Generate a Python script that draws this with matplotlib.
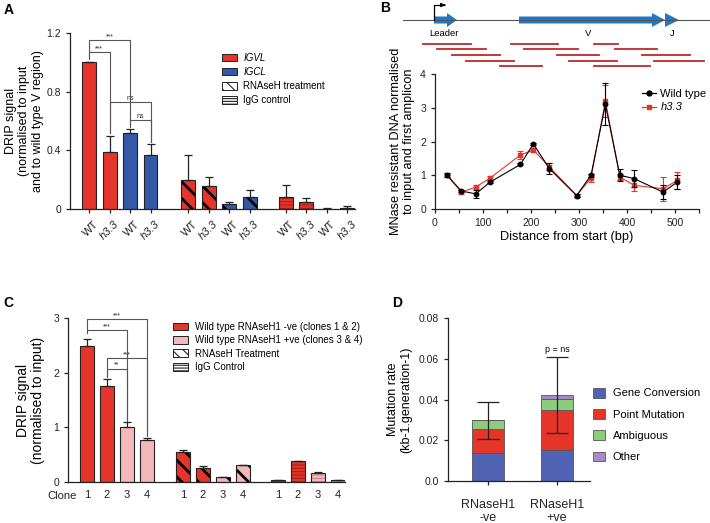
import matplotlib
matplotlib.use("Agg")
import matplotlib.pyplot as plt
from matplotlib.patches import Patch, FancyArrow
from matplotlib.lines import Line2D
import matplotlib.transforms as mtransforms
import numpy as np

plt.rcParams['font.family'] = ['Liberation Sans', 'DejaVu Sans']
plt.rcParams['hatch.linewidth'] = 2.0

W, H = 710, 523
fig = plt.figure(figsize=(W / 100, H / 100), dpi=100)

def ax_px(x0, y0, x1, y1):
    return fig.add_axes([x0 / W, 1 - y1 / H, (x1 - x0) / W, (y1 - y0) / H])

RED = '#E5352B'
BLUE = '#3658A8'
PINK = '#F4B8BC'
DARK = '#222222'

def style(ax):
    for s in ['top', 'right']:
        ax.spines[s].set_visible(False)
    for s in ['left', 'bottom']:
        ax.spines[s].set_color(DARK)
        ax.spines[s].set_linewidth(0.9)
    ax.tick_params(colors=DARK, width=0.9, length=3, labelsize=7.5)

# ---------------- Panel A data ----------------
a_labels = ['WT', 'h3.3', 'WT', 'h3.3'] * 3
a_vals = [1.00, 0.39, 0.52, 0.37, 0.195, 0.16, 0.035, 0.08, 0.085, 0.05, 0.003, 0.01]
a_err = [0.0, 0.11, 0.025, 0.075, 0.17, 0.055, 0.01, 0.05, 0.08, 0.025, 0.002, 0.01]
a_gene = ['IGVL', 'IGVL', 'IGCL', 'IGCL'] * 3
a_treat = ['none'] * 4 + ['rnaseh'] * 4 + ['igg'] * 4

# ---------------- Panel B data ----------------
b_x = [25, 55, 85, 115, 178, 205, 238, 295, 325, 355, 385, 415, 475, 505]
b_wt = [1.0, 0.53, 0.45, 0.8, 1.32, 1.93, 1.2, 0.4, 1.0, 3.1, 1.0, 0.9, 0.5, 0.8]
b_wt_err = [0.06, 0.03, 0.12, 0.04, 0.03, 0.03, 0.15, 0.04, 0.05, 0.62, 0.18, 0.25, 0.2, 0.22]
b_h33 = [1.0, 0.5, 0.65, 0.92, 1.6, 1.75, 1.25, 0.4, 0.92, 3.2, 0.95, 0.7, 0.6, 0.85]
b_h33_err = [0.05, 0.06, 0.07, 0.05, 0.12, 0.05, 0.1, 0.04, 0.12, 0.47, 0.1, 0.18, 0.35, 0.25]
# amplicon schematic (start, end, row) in diagram units
amp_start = [423, 511, 594, 437, 524, 615, 452, 557, 642, 466, 569, 654, 500, 594]
amp_end = [471, 558, 618, 486, 578, 657, 500, 599, 690, 514, 617, 704, 542, 650]
amp_row = [0, 0, 0, 1, 1, 1, 2, 2, 2, 3, 3, 3, 4, 4]

# ---------------- Panel C data ----------------
c_labels = ['1', '2', '3', '4'] * 3
c_vals = [2.48, 1.76, 1.01, 0.77, 0.55, 0.25, 0.09, 0.31, 0.04, 0.38, 0.17, 0.04]
c_err = [0.13, 0.13, 0.08, 0.04, 0.03, 0.05, 0.01, 0.01, 0.0, 0.005, 0.02, 0.0]
c_type = ['neg', 'neg', 'pos', 'pos'] * 3
c_treat = ['none'] * 4 + ['rnaseh'] * 4 + ['igg'] * 4

# ---------------- Panel D data ----------------
d_cats = ['RNaseH1\n-ve', 'RNaseH1\n+ve']
d_gene_conv = [0.0135, 0.0150]
d_point = [0.0120, 0.0198]
d_ambig = [0.0043, 0.0054]
d_other = [0.0, 0.0021]
d_err = [0.009, 0.0185]


def igg_hatch_color(color):
    return {RED: '#9E1E16', BLUE: '#1E2F6E'}.get(color, '#C98088')


def hatched_bar(ax, x, h, w, color, treat):
    if treat == 'rnaseh':
        ax.bar(x, h, w, color=color, edgecolor='black', hatch='\\\\', linewidth=0, zorder=2)
    elif treat == 'igg':
        with plt.rc_context({'hatch.linewidth': 0.7}):
            ax.bar(x, h, w, color=color, edgecolor=igg_hatch_color(color), hatch='-----',
                   linewidth=0, zorder=2)
    else:
        ax.bar(x, h, w, color=color, linewidth=0, zorder=2)
    ax.bar(x, h, w, fill=False, edgecolor=DARK, linewidth=0.8, zorder=3)


def bracket(ax, x1, x2, ytop, yl, yr, text, fs=5):
    ax.plot([x1, x1, x2, x2], [yl, ytop, ytop, yr], color='#555555', lw=0.8, zorder=4,
            clip_on=False)
    ax.text((x1 + x2) / 2, ytop, text, ha='center', va='bottom', fontsize=fs, color=DARK)


def legend_handles(first_labels, first_colors, hatch_labels):
    hs = [Patch(facecolor=c, edgecolor=DARK, linewidth=0.7, label=l)
          for l, c in zip(first_labels, first_colors)]
    hs.append(Patch(facecolor='white', edgecolor=DARK, linewidth=0.7, hatch='\\\\\\',
                    label=hatch_labels[0]))
    hs.append(Patch(facecolor='white', edgecolor=DARK, linewidth=0.7, hatch='------',
                    label=hatch_labels[1]))
    return hs

# ================= Panel A =================
axA = ax_px(70, 33, 355, 209)
style(axA)
a_pos = np.concatenate([np.arange(4), np.arange(4) + 4.85, np.arange(4) + 9.6])
for i in range(12):
    col = RED if a_gene[i] == 'IGVL' else BLUE
    hatched_bar(axA, a_pos[i], a_vals[i], 0.68, col, a_treat[i])
axA.errorbar(a_pos, a_vals, yerr=[np.zeros(12), a_err], fmt='none', ecolor=DARK,
             elinewidth=0.9, capsize=3, capthick=0.9, zorder=3.5)
axA.set_ylim(0, 1.2)
axA.set_xlim(-0.93, 12.98)
axA.set_yticks([0, 0.4, 0.8, 1.2])
axA.set_yticklabels(['0', '0.4', '0.8', '1.2'])
axA.set_xticks(a_pos)
axA.set_xticklabels(a_labels, rotation=45, ha='right', rotation_mode='anchor', fontsize=8)
off = mtransforms.ScaledTranslation(4 / 100, -1 / 100, fig.dpi_scale_trans)
for t, lab in zip(axA.get_xticklabels(), a_labels):
    t.set_transform(t.get_transform() + off)
    if lab == 'h3.3':
        t.set_style('italic')
axA.set_ylabel('DRIP signal\n(normalised to input\nand to wild type V region)', fontsize=9,
               labelpad=2, linespacing=1.15)
bracket(axA, a_pos[0], a_pos[2], 1.15, 1.03, 0.57, '***')
bracket(axA, a_pos[0], a_pos[1], 1.07, 1.02, 0.52, '***')
bracket(axA, a_pos[1], a_pos[3], 0.73, 0.52, 0.46, 'ns')
bracket(axA, a_pos[2], a_pos[3], 0.61, 0.56, 0.46, 'ns')
with plt.rc_context({'hatch.linewidth': 0.8}):
    lgA = axA.legend(handles=legend_handles(['IGVL', 'IGCL'], [RED, BLUE],
                                            ['RNAseH treatment', 'IgG control']),
                     loc='upper left', bbox_to_anchor=(217 / W, 1 - 48 / H),
                     bbox_transform=fig.transFigure, frameon=False, fontsize=7,
                     handlelength=1.6, handleheight=0.85, labelspacing=0.42,
                     handletextpad=0.6, borderpad=0)
for t in lgA.get_texts()[:2]:
    t.set_style('italic')

# ================= Panel B =================
axBd = ax_px(395, 0, 710, 72)
axBd.set_xlim(395, 710)
axBd.set_ylim(72, 0)
axBd.axis('off')
axBd.plot([403, 710], [20, 20], color='#555555', lw=0.8)
BLUEARROW = '#1F77C8'
axBd.add_patch(FancyArrow(434, 20, 23, 0, width=7, head_width=14, head_length=10,
                          length_includes_head=True, color=BLUEARROW, lw=0))
axBd.add_patch(FancyArrow(519, 20, 146, 0, width=7, head_width=14, head_length=13,
                          length_includes_head=True, color=BLUEARROW, lw=0))
axBd.add_patch(FancyArrow(665, 20, 14, 0, width=0.1, head_width=14, head_length=14,
                          length_includes_head=True, color=BLUEARROW, lw=0))
axBd.plot([434, 434, 444], [20, 5, 5], color='black', lw=0.9)
axBd.annotate('', xy=(448, 5), xytext=(442, 5),
              arrowprops=dict(arrowstyle='-|>', color='black', lw=0.8, mutation_scale=6))
axBd.text(444, 33, 'Leader', ha='center', va='center', fontsize=6.8)
axBd.text(588, 33, 'V', ha='center', va='center', fontsize=6.8)
axBd.text(672, 33, 'J', ha='center', va='center', fontsize=6.8)
row_y = [43.7, 49.3, 55, 60.7, 66]
for s, e, r in zip(amp_start, amp_end, amp_row):
    axBd.plot([s, e], [row_y[r], row_y[r]], color='#C0282A', lw=1.3)

axB = ax_px(435, 74, 699, 209)
style(axB)
axB.errorbar(b_x, b_h33, yerr=b_h33_err, color='#E5352B', marker='s', ms=3.2, lw=0.8,
             elinewidth=0.8, capsize=2, capthick=0.8, zorder=2)
axB.errorbar(b_x, b_wt, yerr=b_wt_err, color='black', marker='o', ms=3.2, lw=0.8,
             elinewidth=0.8, capsize=2, capthick=0.8, zorder=3)
axB.set_xlim(0, 550)
axB.set_ylim(0, 4)
axB.set_yticks([0, 1, 2, 3, 4])
axB.set_xticks(np.arange(0, 551, 50))
axB.set_xticklabels([str(v) if v % 100 == 0 else '' for v in range(0, 551, 50)])
axB.set_xlabel('Distance from start (bp)', fontsize=9.2, labelpad=2)
axB.set_ylabel('MNase resistant DNA normalised\nto input and first amplicon', fontsize=9.2,
               labelpad=4, linespacing=1.1)
lg = axB.legend([Line2D([], [], color='black', marker='o', ms=3.5, lw=0.9),
                 Line2D([], [], color='#E5352B', marker='s', ms=3.5, lw=0.9)],
                ['Wild type', 'h3.3'], loc='upper left',
                bbox_to_anchor=(636 / W, 1 - 83 / H), bbox_transform=fig.transFigure,
                frameon=False, fontsize=8, handlelength=1.3, labelspacing=0.35,
                handletextpad=0.4, borderpad=0)
lg.get_texts()[1].set_style('italic')

# ================= Panel C =================
axC = ax_px(68, 318, 345, 482)
style(axC)
c_pos = np.concatenate([np.arange(4), np.arange(4) + 4.8, np.arange(4) + 9.55])
for i in range(12):
    col = RED if c_type[i] == 'neg' else PINK
    hatched_bar(axC, c_pos[i], c_vals[i], 0.7, col, c_treat[i])
axC.errorbar(c_pos, c_vals, yerr=[np.zeros(12), c_err], fmt='none', ecolor=DARK,
             elinewidth=0.9, capsize=3, capthick=0.9, zorder=3.5)
axC.set_ylim(0, 3)
axC.set_xlim(-0.95, 12.9)
axC.set_yticks([0, 1, 2, 3])
axC.set_xticks(c_pos)
axC.set_xticklabels(c_labels, fontsize=8)
axC.tick_params(axis='x', length=0, pad=6)
axC.set_ylabel('DRIP signal\n(normalised to input)', fontsize=10, labelpad=6, linespacing=1.1)
fig.text(77 / W, 1 - 496 / H, 'Clone', ha='right', va='center', fontsize=8, color=DARK)
bracket(axC, c_pos[0], c_pos[3], 2.98, 2.72, 0.85, '***')
bracket(axC, c_pos[0], c_pos[2], 2.78, 2.72, 1.12, '***')
bracket(axC, c_pos[1], c_pos[3], 2.27, 1.92, 0.85, '***')
bracket(axC, c_pos[1], c_pos[2], 2.07, 1.92, 1.12, '**')
with plt.rc_context({'hatch.linewidth': 0.8}):
    axC.legend(handles=legend_handles(['Wild type RNAseH1 -ve (clones 1 & 2)',
                                       'Wild type RNAseH1 +ve (clones 3 & 4)'], [RED, PINK],
                                      ['RNAseH Treatment', 'IgG Control']),
               loc='upper left', bbox_to_anchor=(168 / W, 1 - 317 / H),
               bbox_transform=fig.transFigure, frameon=False, fontsize=7, handlelength=1.6,
               handleheight=0.85, labelspacing=0.35, handletextpad=0.7, borderpad=0)

# ================= Panel D =================
axD = ax_px(448, 318, 590, 481)
style(axD)
d_pos = np.arange(2)
bottom = np.zeros(2)
d_colors = ['#5062B3', '#E5352B', '#8DCB7D', '#A68CC6']
d_names = ['Gene Conversion', 'Point Mutation', 'Ambiguous', 'Other']
for vals, colr, name in zip([d_gene_conv, d_point, d_ambig, d_other], d_colors, d_names):
    axD.bar(d_pos, vals, 0.46, bottom=bottom, color=colr, edgecolor='#555555', linewidth=0.6,
            label=name, zorder=2)
    bottom = bottom + np.array(vals)
axD.errorbar(d_pos, bottom, yerr=d_err, fmt='none', ecolor=DARK, elinewidth=0.9,
             capsize=8, capthick=0.9, zorder=4)
axD.text(d_pos[1], bottom[1] + d_err[1] + 0.0015, 'p = ns', ha='center', va='bottom', fontsize=6.5)
axD.set_ylim(0, 0.08)
axD.set_xlim(-0.58, 1.48)
axD.set_yticks([0, 0.02, 0.04, 0.06, 0.08])
axD.set_yticklabels(['0.0', '0.02', '0.04', '0.06', '0.08'])
axD.set_xticks(d_pos)
axD.set_xticklabels(d_cats, fontsize=9, linespacing=1.1)
axD.tick_params(axis='x', pad=10)
axD.set_ylabel('Mutation rate\n(kb-1.generation-1)', fontsize=9, labelpad=5, linespacing=1.1)
axD.legend(loc='upper left', bbox_to_anchor=(587 / W, 1 - 382 / H), bbox_transform=fig.transFigure,
           frameon=False, fontsize=8, handlelength=1.1, handleheight=1.0, labelspacing=0.95,
           handletextpad=0.7, borderpad=0)

# panel letters
for lab, x, y in [('A', 4, 10), ('B', 380, 8), ('C', 3, 303), ('D', 392, 303)]:
    fig.text(x / W, 1 - y / H, lab, fontsize=10, fontweight='bold', ha='left', va='center')

fig.savefig('out.png', dpi=100)
